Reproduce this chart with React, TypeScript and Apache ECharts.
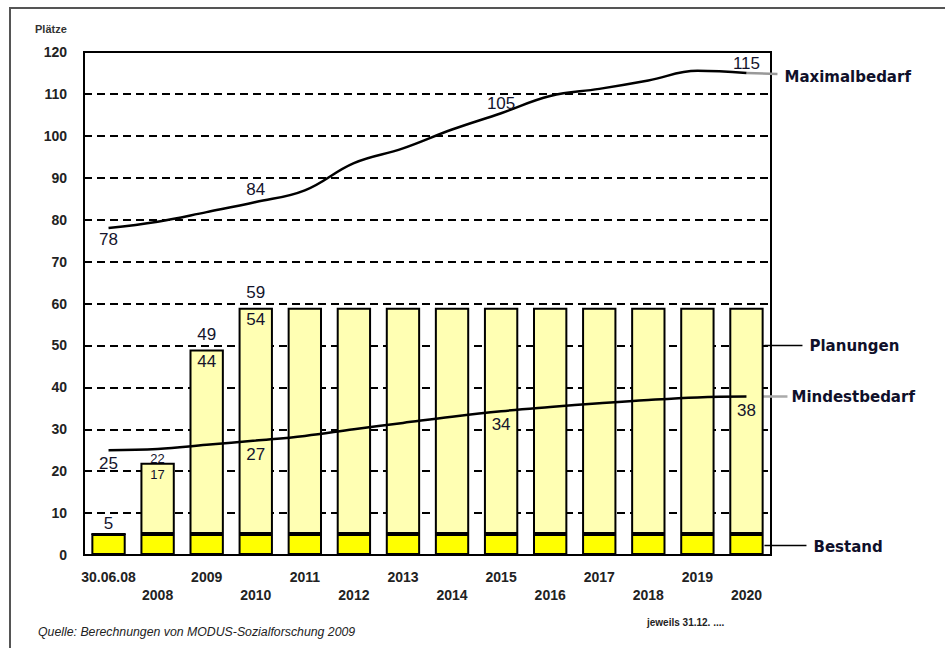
import React, { useEffect, useRef } from "react";
import * as echarts from "echarts";

const categories = ["30.06.08", "2008", "2009", "2010", "2011", "2012", "2013", "2014", "2015", "2016", "2017", "2018", "2019", "2020"];
const bestand = [5, 5, 5, 5, 5, 5, 5, 5, 5, 5, 5, 5, 5, 5];
const planungen = [0, 17, 44, 54, 54, 54, 54, 54, 54, 54, 54, 54, 54, 54];
const mindestbedarf = [25, 25.3, 26.3, 27.3, 28.4, 30, 31.5, 33, 34.3, 35.3, 36.2, 37, 37.6, 37.8];
const maximalbedarf = [78, 79.5, 81.8, 84.2, 87, 93.5, 97, 101.5, 105.4, 109.5, 111.2, 113.2, 115.5, 115];
const mindestLabelIdx = [0, 3, 8, 13];
const maximalLabelIdx = [0, 3, 8, 13];
const planungLabelIdx = [1, 2, 3];
const totalLabelIdx = [0, 1, 2, 3];
const yTicks = { min: 0, max: 120, interval: 10 };

const NUM_COLOR = "#14142c";
const NUM_FONT = "Liberation Sans";

export default function App() {
  const ref = useRef<HTMLDivElement>(null);
  useEffect(() => {
    if (!ref.current) return;
    const chart = echarts.init(ref.current, null, { renderer: "svg" });
    const totals = bestand.map((b, i) => b + planungen[i]);
    const numLabel = (show: boolean, position: string, extra: any = {}) => ({
      show,
      position,
      color: NUM_COLOR,
      fontFamily: NUM_FONT,
      fontSize: 17,
      distance: 5,
      formatter: (p: any) => String(Math.round(p.value)),
      ...extra,
    });
    const option: any = {
      animation: false,
      backgroundColor: "#ffffff",
      grid: { left: 84, right: 174, top: 52, bottom: 93, show: true, borderColor: "#000", borderWidth: 2, backgroundColor: "transparent" },
      xAxis: {
        type: "category",
        data: categories,
        axisLine: { lineStyle: { color: "#000", width: 2 } },
        axisTick: { show: false },
        axisLabel: {
          interval: 0,
          margin: 13,
          fontFamily: "Liberation Sans",
          fontWeight: "bold",
          fontSize: 14,
          color: "#222",
          lineHeight: 18,
          formatter: (v: string, i: number) => (i % 2 === 1 ? "\n" + v : v),
        },
      },
      yAxis: {
        type: "value",
        min: yTicks.min,
        max: yTicks.max,
        interval: yTicks.interval,
        axisLine: { show: true, lineStyle: { color: "#000", width: 2 } },
        axisTick: { show: false },
        axisLabel: { margin: 17, fontFamily: "Liberation Sans", fontWeight: "bold", fontSize: 14, color: "#222" },
        splitLine: { lineStyle: { color: "#000", width: 2, type: [8, 5] } },
      },
      series: [
        {
          name: "Bestand",
          type: "bar",
          stack: "s",
          barWidth: "70%",
          data: bestand,
          itemStyle: { color: "#ffff00", borderColor: "#000", borderWidth: 2 },
        },
        {
          name: "Planungen",
          type: "bar",
          stack: "s",
          barWidth: "70%",
          data: planungen.map((v, i) => ({
            value: v,
            label: numLabel(planungLabelIdx.includes(i), "insideTop", i === 1 ? { fontSize: 13, distance: 5 } : { distance: 3 }),
          })),
          itemStyle: { color: "#ffffb3", borderColor: "#000", borderWidth: 2 },
        },
        {
          name: "Mindestbedarf",
          type: "line",
          smooth: 0.4,
          symbol: "circle",
          symbolSize: 0,
          showSymbol: true,
          lineStyle: { color: "#000", width: 2.5 },
          itemStyle: { color: "#000" },
          data: mindestbedarf.map((v, i) => ({ value: v, label: numLabel(mindestLabelIdx.includes(i), "bottom", { distance: 5 }) })),
          z: 5,
        },
        {
          name: "Maximalbedarf",
          type: "line",
          smooth: 0.4,
          symbol: "circle",
          symbolSize: 0,
          showSymbol: true,
          lineStyle: { color: "#000", width: 2.5 },
          itemStyle: { color: "#000" },
          data: maximalbedarf.map((v, i) => ({
            value: v,
            label: numLabel(maximalLabelIdx.includes(i), i === 0 ? "bottom" : "top", { distance: i === 0 ? 3 : i === 3 ? 4 : 1 }),
          })),
          z: 5,
        },
        {
          name: "Summe",
          type: "scatter",
          symbolSize: 0,
          itemStyle: { color: "#000", opacity: 1 },
          data: totals.map((v, i) => ({
            value: v,
            label: numLabel(totalLabelIdx.includes(i), "top", i === 1 ? { fontSize: 13, distance: -2 } : { distance: i === 0 ? 2 : 7 }),
          })),
          z: 6,
        },
      ],
    };
    chart.setOption(option);

    const last = categories.length - 1;
    const px = (idx: number, v: number) => chart.convertToPixel({ gridIndex: 0 }, [idx, v]) as number[];
    const pMax = px(last, maximalbedarf[last]);
    const pMin = px(last, mindestbedarf[last]);
    const pPlan = px(last, 50);
    const pBest = px(last, bestand[last] / 2);
    const barRight = pMax[0] + 18;
    const labelStyle = { fill: "#10102a", fontFamily: "DejaVu Sans", fontWeight: "bold", fontSize: 15, textVerticalAlign: "middle" };

    chart.setOption({
      graphic: [
        { type: "rect", shape: { x: 10, y: 8, width: 1000, height: 700 }, style: { fill: "none", stroke: "#555", lineWidth: 2 }, silent: true },
        { type: "text", x: 35, y: 29, style: { text: "Plätze", fontFamily: "Liberation Sans", fontWeight: "bold", fontSize: 11, fill: "#333", textVerticalAlign: "middle" } },
        { type: "line", shape: { x1: pMax[0], y1: pMax[1], x2: pMax[0] + 31, y2: pMax[1] + 1 }, style: { stroke: "#999", lineWidth: 2.5 } },
        { type: "text", x: pMax[0] + 38, y: pMax[1] + 4, style: { text: "Maximalbedarf", ...labelStyle } },
        { type: "line", shape: { x1: barRight, y1: pPlan[1], x2: barRight + 38, y2: pPlan[1] }, style: { stroke: "#000", lineWidth: 1.5 } },
        { type: "text", x: barRight + 45, y: pPlan[1] + 1, style: { text: "Planungen", ...labelStyle } },
        { type: "line", shape: { x1: pMin[0], y1: pMin[1], x2: pMin[0] + 41, y2: pMin[1] }, style: { stroke: "#aaa", lineWidth: 2.5 } },
        { type: "text", x: pMin[0] + 45, y: pMin[1], style: { text: "Mindestbedarf", ...labelStyle } },
        { type: "line", shape: { x1: barRight, y1: pBest[1] + 1, x2: barRight + 42, y2: pBest[1] + 1 }, style: { stroke: "#000", lineWidth: 1.5 } },
        { type: "text", x: barRight + 49, y: pBest[1] + 2, style: { text: "Bestand", ...labelStyle } },
        { type: "text", x: 647, y: 622, style: { text: "jeweils 31.12. ....", fontFamily: "Liberation Sans", fontWeight: "bold", fontSize: 10, fill: "#222", textVerticalAlign: "middle" } },
        { type: "text", x: 38, y: 632, style: { text: "Quelle: Berechnungen von MODUS-Sozialforschung 2009", fontFamily: "Liberation Sans", fontStyle: "italic", fontSize: 12.3, fill: "#222", textVerticalAlign: "middle" } },
      ],
    });
    return () => chart.dispose();
  }, []);
  return <div ref={ref} style={{ position: "absolute", left: 0, top: 0, width: 945, height: 648 }} />;
}
